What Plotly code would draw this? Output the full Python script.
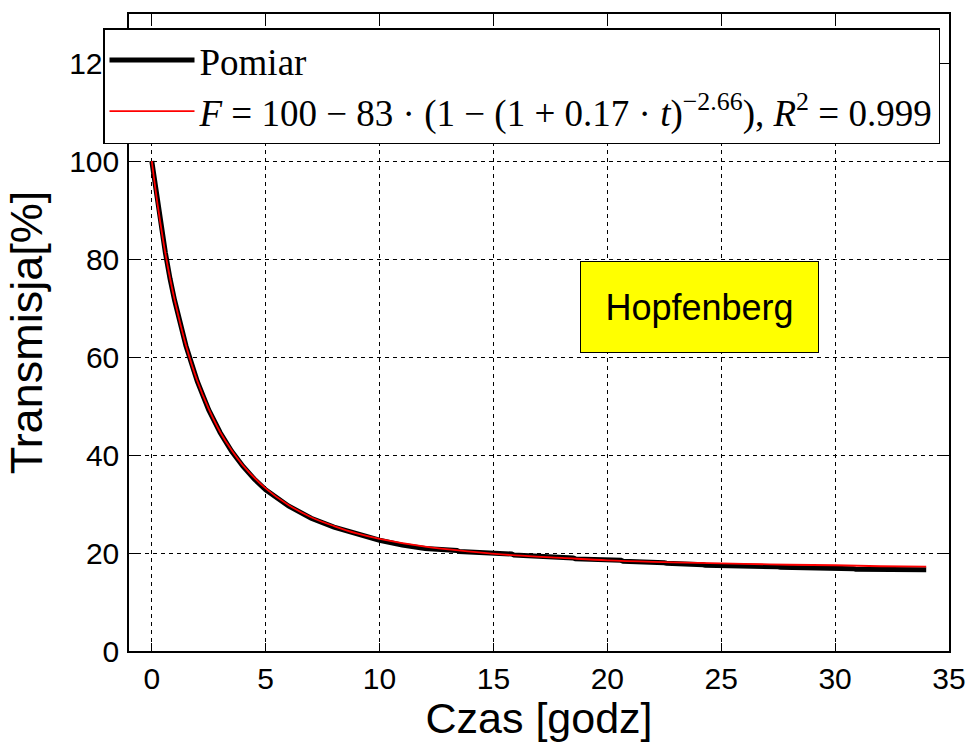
import plotly.graph_objects as go

meas_t = [0, 0.2, 0.4, 0.6, 0.8, 1.0, 1.5, 2, 2.5, 3, 3.5, 4, 4.5, 5, 6, 7, 8, 9, 10, 11, 12,
          13.4, 13.5, 15.8, 15.9, 18.5, 18.6, 20.6, 20.7, 22.5, 22.6, 24.2, 24.3, 27.5, 27.6,
          30.8, 30.9, 34]
meas_v = [100, 93.5, 87.2, 81.2, 76.0, 71.6, 62.3, 55.0, 49.2, 44.6, 40.8, 37.7, 35.1, 32.9,
          29.6, 27.1, 25.3, 23.9, 22.6, 21.6, 20.9, 20.5, 20.3, 19.8, 19.6, 19.0, 18.8, 18.5,
          18.3, 18.0, 17.9, 17.6, 17.5, 17.2, 17.1, 16.8, 16.7, 16.6]

# Fitted curve (red)
fit_t = [0, 0.25, 0.5, 0.75, 1, 1.5, 2, 2.5, 3, 3.5, 4, 5, 6, 7, 8, 9, 10, 12, 14, 16, 18,
         20, 22, 24, 26, 28, 30, 32, 34]
fit_v = [100, 91.3, 83.8, 77.3, 71.7, 62.4, 55.1, 49.4, 44.7, 41.0, 37.9, 33.2, 29.8, 27.3,
         25.5, 24.0, 22.9, 21.3, 20.3, 19.5, 19.0, 18.5, 18.2, 18.0, 17.8, 17.6, 17.5, 17.3, 17.2]

x_ticks = [0, 5, 10, 15, 20, 25, 30, 35]
y_ticks = [0, 20, 40, 60, 80, 100, 120]

name_meas = "Pomiar"
name_fit = ("<i>F</i> = 100 − 83 · (1 − (1 + 0.17 · <i>t</i>)<sup>−2.66</sup>), "
            "<i>R</i><sup>2</sup> = 0.999")
label_text = "Hopfenberg"

fig = go.Figure()
fig.add_trace(go.Scatter(x=meas_t, y=meas_v, mode="lines", name=name_meas,
                         line=dict(color="black", width=5), legendgroup="a"))
fig.add_trace(go.Scatter(x=fit_t, y=fit_v, mode="lines", name=name_fit,
                         line=dict(color="red", width=1.8, shape="spline"), legendgroup="b"))

axis_common = dict(showline=True, linecolor="black", linewidth=1.5, mirror="ticks",
                   ticks="inside", ticklen=8, tickcolor="black", tickwidth=1,
                   showgrid=True, gridcolor="black", gridwidth=1, griddash="4px,4px",
                   zeroline=False, automargin=False,
                   tickfont=dict(family="Liberation Sans", size=30, color="black"))

fig.update_xaxes(range=[-1, 35], tickvals=x_ticks, **axis_common, ticklabelstandoff=0,
                 title=dict(text="Czas [godz]", font=dict(family="Liberation Sans", size=43, color="black"),
                            standoff=14))
fig.update_yaxes(range=[0, 130], tickvals=y_ticks, **axis_common, ticklabelstandoff=2,
                 title=dict(text="Transmisja[%]", font=dict(family="Liberation Sans", size=45, color="black"),
                            standoff=12))

fig.add_annotation(x=24.05, y=70.2, xref="x", yref="y", text=label_text, showarrow=False,
                   font=dict(family="Liberation Sans", size=36, color="black"),
                   bgcolor="#ffff00", bordercolor="black", borderwidth=1, borderpad=1,
                   width=235, height=88)

fig.update_layout(
    width=968, height=742,
    margin=dict(l=129, r=19, t=14, b=91),
    plot_bgcolor="white", paper_bgcolor="white",
    legend=dict(x=-0.0317, y=0.978, xanchor="left", yanchor="top",
                bgcolor="white", bordercolor="black", borderwidth=1.5,
                font=dict(family="Liberation Serif", size=37, color="black"),
                itemwidth=85, tracegroupgap=0, traceorder="grouped"),
    showlegend=True,
)

fig.write_html("out.html")
